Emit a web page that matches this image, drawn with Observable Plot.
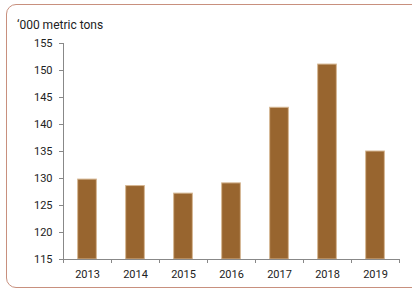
<!DOCTYPE html>
<html><head><meta charset="utf-8">
<script src="https://cdn.jsdelivr.net/npm/d3@7"></script>
<script src="https://cdn.jsdelivr.net/npm/@observablehq/plot@0.6"></script>
<style>
html,body{margin:0;padding:0;background:#fff;width:412px;height:291px;overflow:hidden;font-family:Roboto,"Open Sans",sans-serif;}
#frame{position:absolute;left:6px;top:4px;width:440px;height:284px;border:1.5px solid #c8907e;border-radius:10px;box-sizing:border-box;}
#title{position:absolute;left:17px;top:18px;font-size:12px;color:#222;}
#chart{position:absolute;left:0;top:0;}
</style></head>
<body>
<div id="frame"></div>
<div id="title">‘000 metric tons</div>
<div id="chart"></div>
<script>
const years = [2013, 2014, 2015, 2016, 2017, 2018, 2019];
const values = [129.8, 128.6, 127.2, 129.1, 143.1, 151.1, 135.0];
const yTicks = [115, 120, 125, 130, 135, 140, 145, 150, 155];

const data = years.map((year, i) => ({year, value: values[i]}));
const half = 0.195;
const boundaries = [...years.map(y => y - 0.5), years[years.length - 1] + 0.5];

const chart = Plot.plot({
  width: 412,
  height: 291,
  marginLeft: 63,
  marginRight: 13,
  marginTop: 43,
  marginBottom: 32,
  style: {fontFamily: "Roboto, sans-serif", fontSize: "11px", color: "#222", background: "transparent"},
  x: {type: "linear", domain: [years[0] - 0.5, years[years.length - 1] + 0.5]},
  y: {domain: [115, 155]},
  marks: [
    Plot.rectY(data, {x1: d => d.year - half, x2: d => d.year + half, y1: 115, y2: "value", fill: "#98652f", stroke: "#d6b894", strokeWidth: 1}),
    Plot.axisY(yTicks, {tickSize: 4, tickPadding: 7, label: null, stroke: "#888", fontSize: 11}),
    Plot.axisX(boundaries, {tickSize: 4, tickFormat: () => "", label: null, stroke: "#888"}),
    Plot.axisX(years, {tickSize: 0, tickPadding: 11, tickFormat: d => String(d), label: null, fontSize: 11}),
    Plot.ruleY([115], {stroke: "#888"}),
    Plot.ruleX([years[0] - 0.5], {y1: 115, y2: 155, stroke: "#888"})
  ]
});
document.getElementById("chart").appendChild(chart);
</script>
</body></html>
